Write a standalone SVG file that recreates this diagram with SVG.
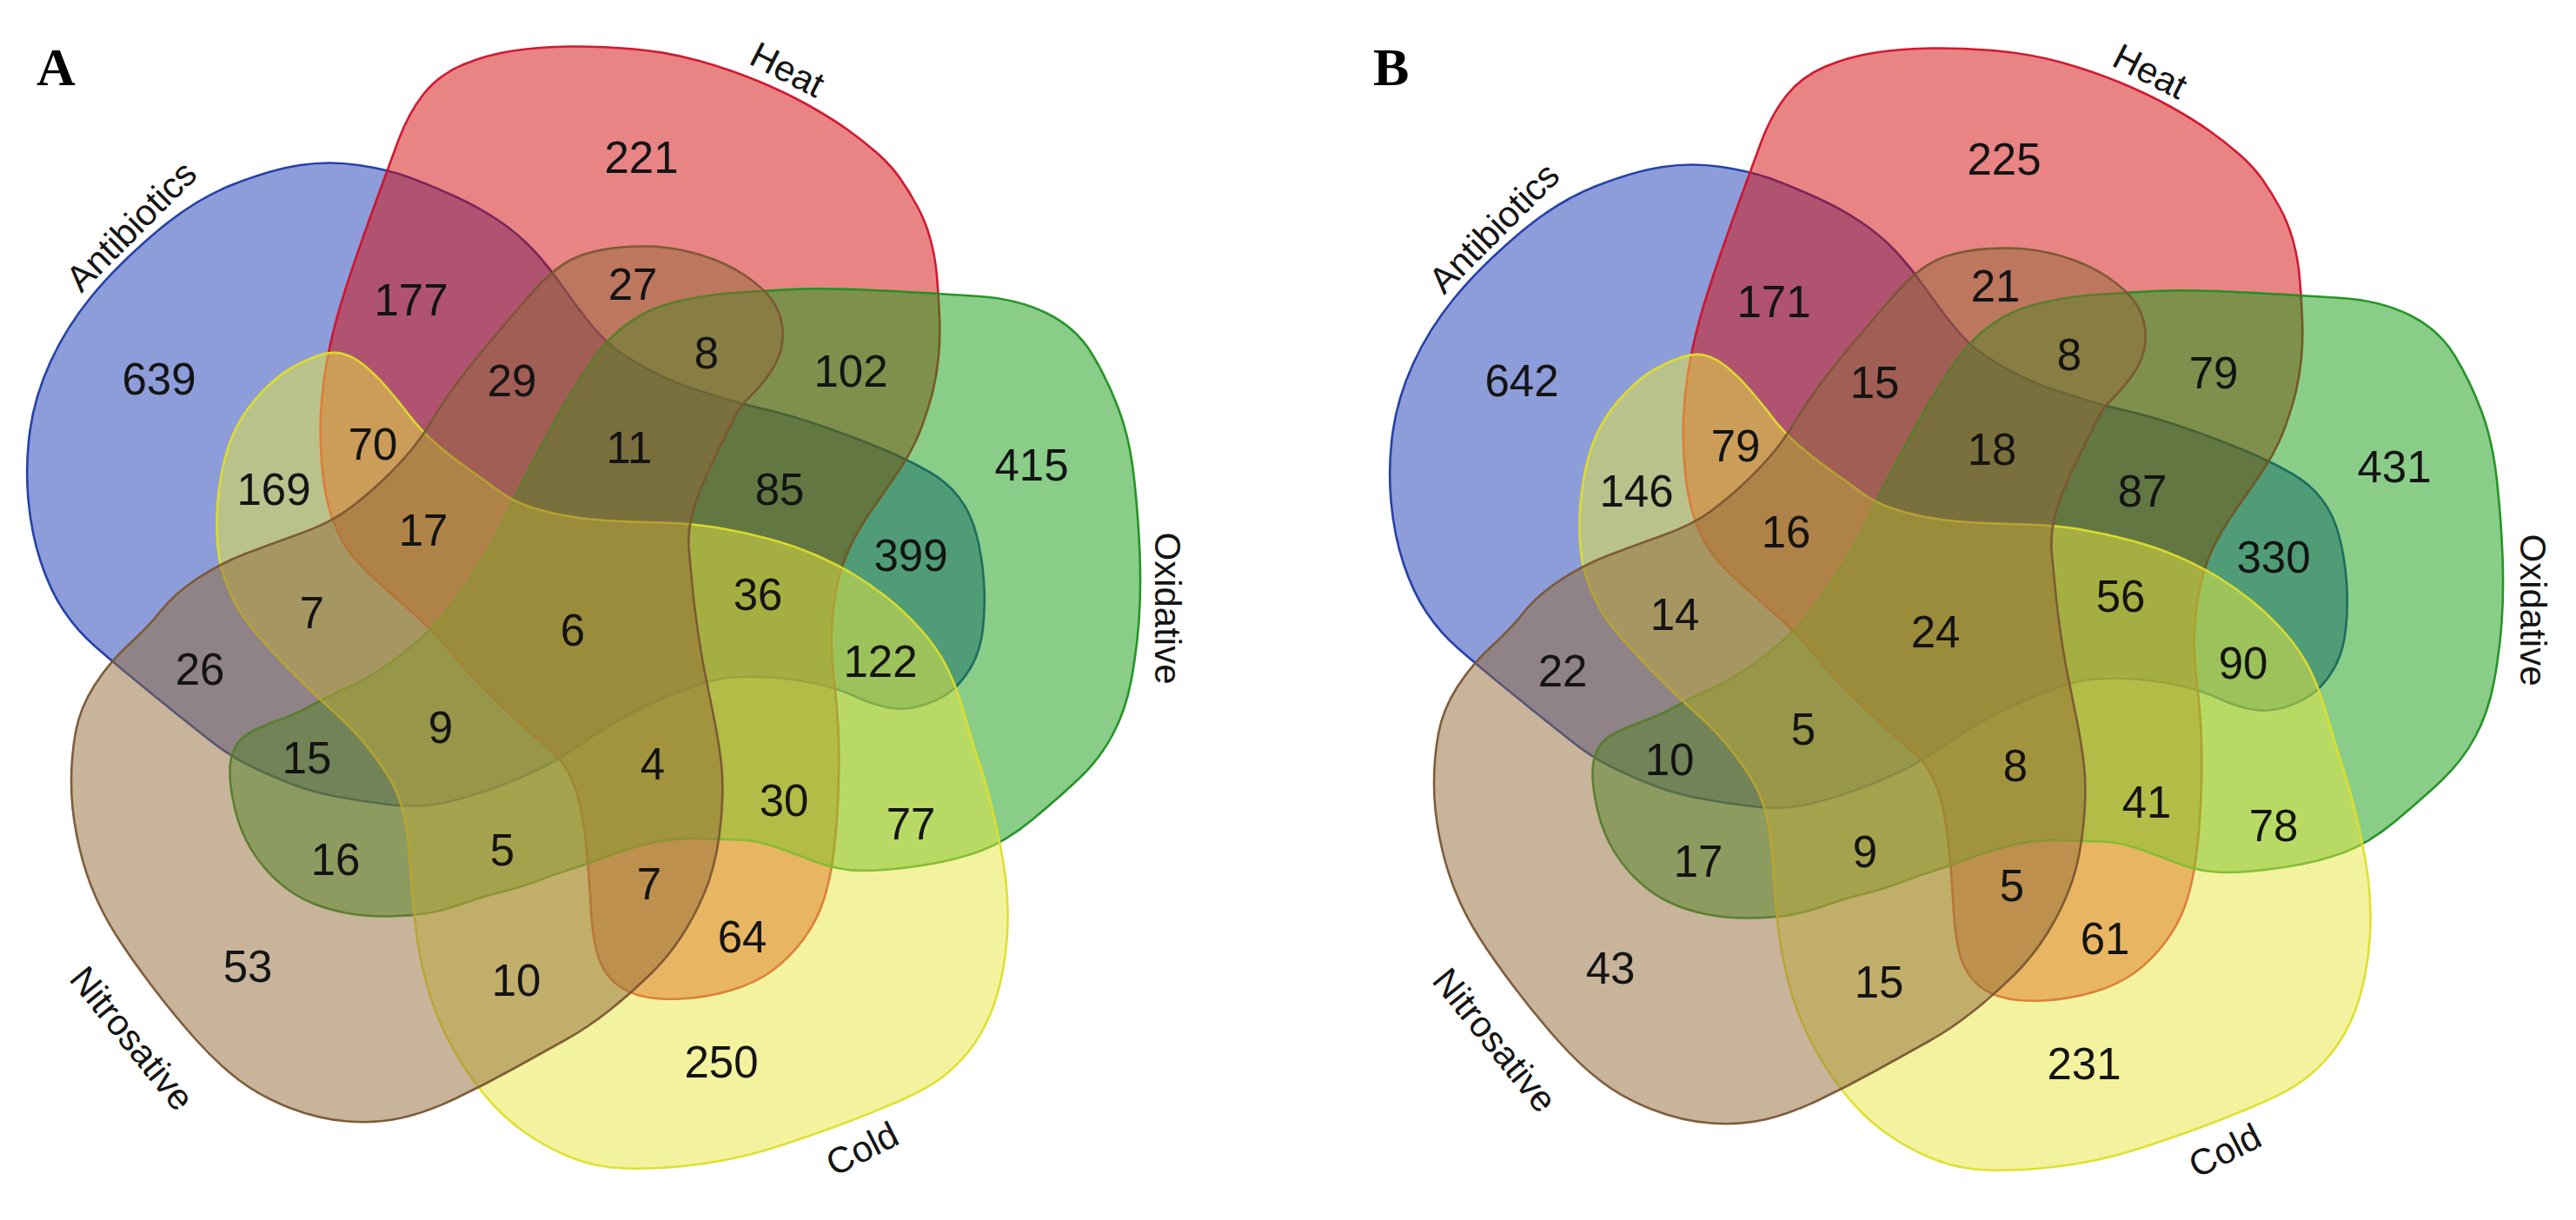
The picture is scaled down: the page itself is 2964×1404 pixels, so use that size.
<svg xmlns="http://www.w3.org/2000/svg" xmlns:xlink="http://www.w3.org/1999/xlink" width="2964" height="1404" viewBox="0 0 2964 1404">
<style>
.set{fill-opacity:0.5;stroke-width:2.6;stroke-opacity:0.95}
.sA{fill:#1a3cb4;stroke:#1c3aa6}
.sH{fill:#d40a0a;stroke:#d0102a}
.sO{fill:#139c13;stroke:#1f8f1f}
.sC{fill:#e8e840;stroke:#dede2a}
.sN{fill:#926a38;stroke:#7a5632}
.num{font-family:"Liberation Sans",Arial,sans-serif;font-size:51px;fill:#141414;text-anchor:middle;dominant-baseline:central}
.lab{font-family:"Liberation Sans",Arial,sans-serif;font-size:42px;fill:#141414;text-anchor:middle;dominant-baseline:central}
.pl{font-family:"Liberation Serif","Times New Roman",serif;font-size:62px;font-weight:bold;fill:#000}
</style>
<defs>
<path id="pA" d="M178.5,268 Q223,230 267.5,212.5 Q312,195 345.5,190 Q379,185 412.5,190 Q446,195 470.5,204 Q495,213 522.5,225.5 Q550,238 572.5,253 Q595,268 612.5,286.5 Q630,305 647.5,330 Q665,355 680.5,374 Q696,393 712,404.5 Q728,416 751.5,428 Q775,440 795,446.5 Q815,453 834.5,459 Q854,465 874,469.5 Q894,474 914,480 Q934,486 953.5,493 Q973,500 992.5,507.5 Q1012,515 1031,523.5 Q1050,532 1070,543.5 Q1090,555 1103.5,572.5 Q1117,590 1123.5,615 Q1130,640 1132,668 Q1134,696 1131,723 Q1128,750 1116.5,769 Q1105,788 1091.5,797.5 Q1078,807 1059,812.5 Q1040,818 1021,814 Q1002,810 983,801 Q964,792 935,786 Q906,780 877.5,779 Q849,778 830.5,781 Q812,784 782.5,795.5 Q753,807 724.5,822 Q696,837 669.5,855.5 Q643,874 621.5,884.5 Q600,895 579,903 Q558,911 534,918 Q510,925 491.5,927 Q473,929 444,925.5 Q415,922 386,916.5 Q357,911 331,900.5 Q305,890 284,879.5 Q263,869 241.5,852 Q220,835 199.5,818.5 Q179,802 154,781.5 Q129,761 109,743.5 Q89,726 73.5,703 Q58,680 47,647 Q36,614 32.5,574.5 Q29,535 34.5,495.5 Q40,456 58,416.5 Q76,377 105,341.5 Q134,306 178.5,268 Z"/>
<path id="pH" d="M430.5,237.5 Q446,195 458,162.5 Q470,130 487.5,108 Q505,86 532.5,74.5 Q560,63 590,58.5 Q620,54 655,53.5 Q690,53 729.5,56.5 Q769,60 804.5,70 Q840,80 871.5,93 Q903,106 929,120.5 Q955,135 973.5,148 Q992,161 1008.5,175.5 Q1025,190 1035.5,205 Q1046,220 1055.5,237.5 Q1065,255 1070.5,275 Q1076,295 1078,317.5 Q1080,340 1081,365 Q1082,390 1080,410 Q1078,430 1074,447.5 Q1070,465 1061,490 Q1052,515 1037,537.5 Q1022,560 1006,582.5 Q990,605 979,627.5 Q968,650 963,675 Q958,700 957,725 Q956,750 959,775 Q962,800 964,830 Q966,860 965,900 Q964,940 960,975 Q956,1010 948,1035 Q940,1060 924,1081.5 Q908,1103 888,1117.5 Q868,1132 840,1140 Q812,1148 783.5,1149.5 Q755,1151 735,1145.5 Q715,1140 702.5,1126 Q690,1112 685.5,1091 Q681,1070 679.5,1040 Q678,1010 674,970 Q670,930 661,905 Q652,880 636,866 Q620,852 599,833 Q578,814 558,794 Q538,774 519,750.5 Q500,727 477.5,707.5 Q455,688 430,665 Q405,642 394.5,623.5 Q384,605 378,582.5 Q372,560 370,530 Q368,500 369,478 Q370,456 373.5,432 Q377,408 383.5,381.5 Q390,355 402.5,317.5 Q415,280 430.5,237.5 Z"/>
<path id="pO" d="M267,915 Q262,885 267,868.5 Q272,852 286,844 Q300,836 320,829 Q340,822 360,811 Q380,800 402,790 Q424,780 444.5,766 Q465,752 482.5,736 Q500,720 512.5,705 Q525,690 537.5,671 Q550,652 561,633.5 Q572,615 582,593.5 Q592,572 605,547 Q618,522 630.5,499 Q643,476 655,456 Q667,436 678.5,419 Q690,402 704,388 Q718,374 737,363 Q756,352 785.5,345.5 Q815,339 844.5,337 Q874,335 911,333 Q948,331 1015,334.5 Q1082,338 1126.5,341 Q1171,344 1204.5,360.5 Q1238,377 1256,406.5 Q1274,436 1287,470.5 Q1300,505 1305,551 Q1310,597 1311.5,638.5 Q1313,680 1310.5,714.5 Q1308,749 1301.5,783.5 Q1295,818 1280,846 Q1265,874 1240.5,897 Q1216,920 1187,944 Q1158,968 1129,979 Q1100,990 1060.5,996 Q1021,1002 992.5,1002 Q964,1002 935,990.5 Q906,979 887,973 Q868,967 849,966.5 Q830,966 801,965 Q772,964 743.5,971.5 Q715,979 696,986.5 Q677,994 657.5,1000 Q638,1006 619,1013.5 Q600,1021 579,1026 Q558,1031 534,1039.5 Q510,1048 491.5,1051 Q473,1054 446.5,1054.5 Q420,1055 395,1050 Q370,1045 350,1035 Q330,1025 312.5,1007.5 Q295,990 283.5,967.5 Q272,945 267,915 Z"/>
<path id="pC" d="M271.5,696 Q263,680 256.5,660 Q250,640 249.5,607 Q249,574 255.5,542 Q262,510 273.5,489 Q285,468 302.5,450 Q320,432 336,423 Q352,414 367,409 Q382,404 394,407 Q406,410 418.5,420 Q431,430 445,446 Q459,462 471,478 Q483,494 500.5,509.5 Q518,525 538,539 Q558,553 574,565 Q590,577 613.5,584.5 Q637,592 666.5,596 Q696,600 745.5,601 Q795,602 824.5,607 Q854,612 884,620 Q914,628 939,639 Q964,650 983,661.5 Q1002,673 1021,688 Q1040,703 1059,724 Q1078,745 1089.5,768 Q1101,791 1109,820 Q1117,849 1126.5,877.5 Q1136,906 1143.5,938.5 Q1151,971 1155,996 Q1159,1021 1159.5,1049.5 Q1160,1078 1155.5,1107 Q1151,1136 1143,1158 Q1135,1180 1122.5,1199 Q1110,1218 1090,1235 Q1070,1252 1032.5,1268 Q995,1284 962.5,1296 Q930,1308 896,1319 Q862,1330 828.5,1336 Q795,1342 760,1344 Q725,1346 700,1343 Q675,1340 650,1329 Q625,1318 605,1304 Q585,1290 569.5,1273.5 Q554,1257 539.5,1236 Q525,1215 512.5,1190 Q500,1165 491,1132.5 Q482,1100 478,1065 Q474,1030 472,995 Q470,960 464,935 Q458,910 444,889 Q430,868 416,851.5 Q402,835 379.5,815 Q357,795 334.5,772 Q312,749 296,730.5 Q280,712 271.5,696 Z"/>
<path id="pN" d="M108.5,789 Q125,763 147.5,742.5 Q170,722 185.5,702.5 Q201,683 227.5,665.5 Q254,648 283,637 Q312,626 345.5,614 Q379,602 399.5,587 Q420,572 439.5,553.5 Q459,535 473,518 Q487,501 498.5,481.5 Q510,462 528,438 Q546,414 566,390.5 Q586,367 601.5,349 Q617,331 629,319.5 Q641,308 655,300 Q669,292 692.5,287.5 Q716,283 745.5,283.5 Q775,284 805,293 Q835,302 856.5,316.5 Q878,331 888,345 Q898,359 900,375 Q902,391 898,404.5 Q894,418 884,432 Q874,446 862.5,457 Q851,468 843,484.5 Q835,501 825,521 Q815,541 807,560.5 Q799,580 795,598 Q791,616 793,636 Q795,656 797,677.5 Q799,699 803,726.5 Q807,754 811,774 Q815,794 821,823.5 Q827,853 830,879.5 Q833,906 829.5,944.5 Q826,983 816.5,1011.5 Q807,1040 789.5,1069 Q772,1098 749,1120.5 Q726,1143 701.5,1162.5 Q677,1182 651,1196.5 Q625,1211 591.5,1229.5 Q558,1248 524.5,1264 Q491,1280 462,1286.5 Q433,1293 400,1290.5 Q367,1288 333.5,1275 Q300,1262 275,1243 Q250,1224 225,1196 Q200,1168 175,1135 Q150,1102 133.5,1076 Q117,1050 106,1022.5 Q95,995 88.5,962.5 Q82,930 82,900 Q82,870 87,842.5 Q92,815 108.5,789 Z"/>
</defs>
<rect x="0" y="0" width="2964" height="1404" fill="#ffffff"/>

<g id="panelA">
<text class="pl" x="42" y="98">A</text>
<g id="A-antibiotics"><use xlink:href="#pA" href="#pA" class="set sA"/><text class="lab" transform="translate(151,260) rotate(-45)">Antibiotics</text></g>
<g id="A-heat"><use xlink:href="#pH" href="#pH" class="set sH"/><text class="lab" transform="translate(906,80) rotate(27)">Heat</text></g>
<g id="A-oxidative"><use xlink:href="#pO" href="#pO" class="set sO"/><text class="lab" transform="translate(1343,700) rotate(90)">Oxidative</text></g>
<g id="A-cold"><use xlink:href="#pC" href="#pC" class="set sC"/><text class="lab" transform="translate(992,1322) rotate(-27)">Cold</text></g>
<g id="A-nitrosative"><use xlink:href="#pN" href="#pN" class="set sN"/><text class="lab" transform="translate(152,1195) rotate(51)">Nitrosative</text></g>
<g id="A-counts">
<text class="num" x="183" y="436">639</text>
<text class="num" x="738" y="181">221</text>
<text class="num" x="473" y="345">177</text>
<text class="num" x="728" y="327">27</text>
<text class="num" x="589" y="438">29</text>
<text class="num" x="813" y="406">8</text>
<text class="num" x="979" y="427">102</text>
<text class="num" x="429" y="511">70</text>
<text class="num" x="315" y="563">169</text>
<text class="num" x="724" y="515">11</text>
<text class="num" x="897" y="563">85</text>
<text class="num" x="1187" y="535">415</text>
<text class="num" x="487" y="610">17</text>
<text class="num" x="1048" y="639">399</text>
<text class="num" x="359" y="705">7</text>
<text class="num" x="659" y="725">6</text>
<text class="num" x="872" y="684">36</text>
<text class="num" x="1013" y="761">122</text>
<text class="num" x="230" y="770">26</text>
<text class="num" x="353" y="872">15</text>
<text class="num" x="507" y="837">9</text>
<text class="num" x="751" y="879">4</text>
<text class="num" x="902" y="921">30</text>
<text class="num" x="1048" y="948">77</text>
<text class="num" x="386" y="989">16</text>
<text class="num" x="578" y="978">5</text>
<text class="num" x="747" y="1017">7</text>
<text class="num" x="854" y="1078">64</text>
<text class="num" x="285" y="1112">53</text>
<text class="num" x="594" y="1128">10</text>
<text class="num" x="830" y="1222">250</text>
</g>
</g>

<g id="panelB" transform="translate(1568,2)">
<text class="pl" x="12" y="96">B</text>
<g id="B-antibiotics"><use xlink:href="#pA" href="#pA" class="set sA"/><text class="lab" transform="translate(151,260) rotate(-45)">Antibiotics</text></g>
<g id="B-heat"><use xlink:href="#pH" href="#pH" class="set sH"/><text class="lab" transform="translate(906,80) rotate(27)">Heat</text></g>
<g id="B-oxidative"><use xlink:href="#pO" href="#pO" class="set sO"/><text class="lab" transform="translate(1346,700) rotate(90)">Oxidative</text></g>
<g id="B-cold"><use xlink:href="#pC" href="#pC" class="set sC"/><text class="lab" transform="translate(992,1322) rotate(-27)">Cold</text></g>
<g id="B-nitrosative"><use xlink:href="#pN" href="#pN" class="set sN"/><text class="lab" transform="translate(152,1195) rotate(51)">Nitrosative</text></g>
<g id="B-counts">
<text class="num" x="183" y="436">642</text>
<text class="num" x="738" y="181">225</text>
<text class="num" x="473" y="345">171</text>
<text class="num" x="728" y="327">21</text>
<text class="num" x="589" y="438">15</text>
<text class="num" x="813" y="406">8</text>
<text class="num" x="979" y="427">79</text>
<text class="num" x="429" y="511">79</text>
<text class="num" x="315" y="563">146</text>
<text class="num" x="724" y="515">18</text>
<text class="num" x="897" y="563">87</text>
<text class="num" x="1187" y="535">431</text>
<text class="num" x="487" y="610">16</text>
<text class="num" x="1048" y="639">330</text>
<text class="num" x="359" y="705">14</text>
<text class="num" x="659" y="725">24</text>
<text class="num" x="872" y="684">56</text>
<text class="num" x="1013" y="761">90</text>
<text class="num" x="230" y="770">22</text>
<text class="num" x="353" y="872">10</text>
<text class="num" x="507" y="837">5</text>
<text class="num" x="751" y="879">8</text>
<text class="num" x="902" y="921">41</text>
<text class="num" x="1048" y="948">78</text>
<text class="num" x="386" y="989">17</text>
<text class="num" x="578" y="978">9</text>
<text class="num" x="747" y="1017">5</text>
<text class="num" x="854" y="1078">61</text>
<text class="num" x="285" y="1112">43</text>
<text class="num" x="594" y="1128">15</text>
<text class="num" x="830" y="1222">231</text>
</g>
</g>
</svg>
